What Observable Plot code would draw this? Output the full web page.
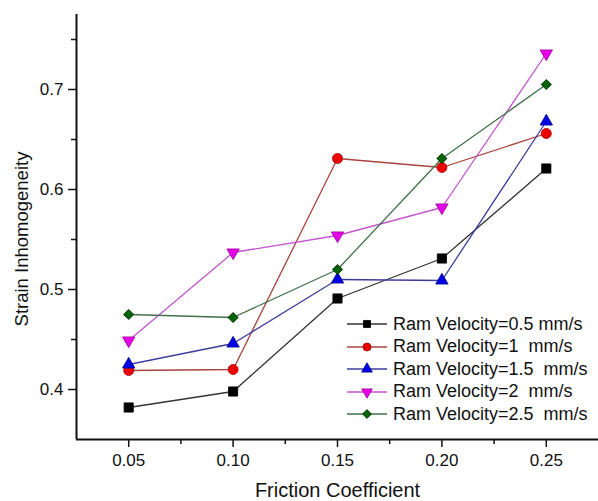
<!DOCTYPE html>
<html>
<head>
<meta charset="utf-8">
<script src="https://cdn.jsdelivr.net/npm/d3@7"></script>
<script src="https://cdn.jsdelivr.net/npm/@observablehq/plot@0.6"></script>
<style>
  html, body { margin: 0; padding: 0; background: #fff; }
  #wrap { position: relative; width: 598px; height: 501px; font-family: "Liberation Sans", Arial, sans-serif; }
  #legend { position: absolute; left: 346px; top: 313px; }
  .row { display: flex; align-items: center; height: 22.5px; }
  .row span { font-size: 18px; white-space: pre; margin-left: 5px; color: #111; }
</style>
</head>
<body>
<div id="wrap"><div id="legend"></div></div>
<script>
const frictionCoefficients = [0.05, 0.10, 0.15, 0.20, 0.25];
const seriesNames = [
  "Ram Velocity=0.5 mm/s",
  "Ram Velocity=1  mm/s",
  "Ram Velocity=1.5  mm/s",
  "Ram Velocity=2  mm/s",
  "Ram Velocity=2.5  mm/s"
];
const velocity05 = [0.382, 0.398, 0.491, 0.531, 0.621];
const velocity1  = [0.419, 0.420, 0.631, 0.622, 0.656];
const velocity15 = [0.425, 0.446, 0.510, 0.509, 0.668];
const velocity2  = [0.449, 0.537, 0.554, 0.582, 0.736];
const velocity25 = [0.475, 0.472, 0.520, 0.631, 0.705];
const xMajorTicks = [0.05, 0.10, 0.15, 0.20, 0.25];
const xMinorTicks = [0.075, 0.125, 0.175, 0.225];
const yMajorTicks = [0.4, 0.5, 0.6, 0.7];
const yMinorTicks = [0.45, 0.55, 0.65, 0.75];
const xLabel = "Friction Coefficient";
const yLabel = "Strain Inhomogeneity";

const allValues = [velocity05, velocity1, velocity15, velocity2, velocity25];
const styles = [
  {symbol: "square",   line: "#333333", fill: "#000000", outline: "#000000", r: 5.2, rotate: 0},
  {symbol: "circle",   line: "#a8443f", fill: "#ee0000", outline: "#a00000", r: 5.0, rotate: 0},
  {symbol: "triangle", line: "#3c3c9c", fill: "#0000e6", outline: "#00008a", r: 4.6, rotate: 0},
  {symbol: "triangle", line: "#c455cc", fill: "#e600e6", outline: "#a000a0", r: 4.6, rotate: 180},
  {symbol: "diamond2", line: "#41704a", fill: "#006400", outline: "#001a00", r: 4.6, rotate: 0}
];

const rows = [];
allValues.forEach((vals, s) => vals.forEach((v, i) => rows.push({series: seriesNames[s], s, x: frictionCoefficients[i], y: v})));

const marks = [];
styles.forEach((st, s) => {
  const d = rows.filter(r => r.s === s);
  marks.push(Plot.line(d, {x: "x", y: "y", stroke: st.line, strokeWidth: 1.3}));
  marks.push(Plot.dot(d, {x: "x", y: "y", symbol: () => st.symbol, fill: st.fill, stroke: st.outline, strokeWidth: 0.8, r: st.r, rotate: st.rotate}));
});

const chart = Plot.plot({
  width: 598,
  height: 501,
  marginLeft: 76,
  marginRight: 0,
  marginTop: 14,
  marginBottom: 62,
  style: {fontFamily: "'Liberation Sans', Arial, sans-serif", color: "#111", background: "#fff"},
  x: {domain: [0.025, 0.275]},
  y: {domain: [0.35, 0.775]},
  symbol: {type: "identity"},
  marks: [
    Plot.axisX(xMajorTicks, {tickSize: 8, tickPadding: 6, fontSize: 17, tickFormat: d3.format(".2f"), label: null, strokeWidth: 1.5}),
    Plot.axisX(xMinorTicks, {tickSize: 5, text: null, label: null, strokeWidth: 1.5}),
    Plot.axisY(yMajorTicks, {tickSize: 8, tickPadding: 5, fontSize: 17, tickFormat: d3.format(".1f"), label: null, strokeWidth: 1.5}),
    Plot.axisY(yMinorTicks, {tickSize: 5, text: null, label: null, strokeWidth: 1.5}),
    Plot.ruleY([0.35], {stroke: "#111", strokeWidth: 2}),
    Plot.ruleX([0.025], {stroke: "#111", strokeWidth: 2}),
    ...marks,
    Plot.text([xLabel], {frameAnchor: "bottom", dy: 51, fontSize: 20, letterSpacing: 0.6, fill: "#111", lineAnchor: "middle", textAnchor: "middle"}),
    Plot.text([yLabel], {frameAnchor: "left", dx: -54, dy: 12, rotate: -90, fontSize: 18.5, fill: "#111", lineAnchor: "middle", textAnchor: "middle"})
  ]
});
document.getElementById("wrap").prepend(chart);

// Legend
const legend = d3.select("#legend");
styles.forEach((st, s) => {
  const row = legend.append("div").attr("class", "row");
  const svg = row.append("svg").attr("width", 42).attr("height", 22);
  svg.append("line").attr("x1", 1).attr("x2", 41).attr("y1", 11).attr("y2", 11).attr("stroke", st.line).attr("stroke-width", 1.3);
  const symType = {square: d3.symbolSquare, circle: d3.symbolCircle, triangle: d3.symbolTriangle, diamond2: d3.symbolDiamond2}[st.symbol];
  svg.append("path")
    .attr("d", d3.symbol(symType, Math.PI * 4 * 4)())
    .attr("transform", `translate(21,11) rotate(${st.rotate})`)
    .attr("fill", st.fill).attr("stroke", st.outline).attr("stroke-width", 0.8);
  row.append("span").text(seriesNames[s]);
});
</script>
</body>
</html>
